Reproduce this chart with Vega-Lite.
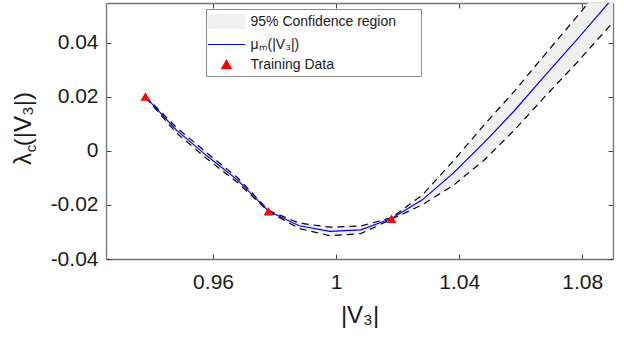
{
  "$schema": "https://vega.github.io/schema/vega-lite/v6.json",
  "width": 507,
  "height": 256,
  "autosize": {"type": "none"},
  "padding": {"left": 106, "top": 3, "right": 11, "bottom": 80},
  "config": {
    "view": {"stroke": null},
    "font": "Liberation Sans",
    "axis": {
      "grid": false,
      "domainColor": "#737373",
      "domainWidth": 1.3,
      "tickColor": "#404040",
      "tickWidth": 1,
      "tickSize": -5,
      "labelFont": "Liberation Sans",
      "labelFontSize": 21,
      "labelColor": "#1a1a1a",
      "titleFont": "Liberation Sans",
      "titleFontWeight": "normal",
      "titleColor": "#1a1a1a"
    },
    "legend": {
      "orient": "none",
      "legendX": 100,
      "legendY": 6,
      "direction": "vertical",
      "fillColor": "white",
      "strokeColor": "#8c8c8c",
      "padding": 4.5,
      "rowPadding": 5,
      "symbolSize": 196,
      "symbolOffset": 8,
      "symbolStrokeColor": "#000000",
      "symbolStrokeWidth": 1.2,
      "symbolDash": [6, 4],
      "labelOffset": 16,
      "labelFontSize": 14,
      "labelFont": "Liberation Sans",
      "labelColor": "#1a1a1a",
      "labelLimit": 0
    }
  },
  "datasets": {
    "curve": [
      {"x": 0.938, "mean": 0.0201, "lower": 0.0199, "upper": 0.0203},
      {"x": 0.948, "mean": 0.0078, "lower": 0.0068, "upper": 0.0088},
      {"x": 0.958, "mean": -0.0018, "lower": -0.0029, "upper": -0.0007},
      {"x": 0.968, "mean": -0.0108, "lower": -0.0117, "upper": -0.0099},
      {"x": 0.978, "mean": -0.0222, "lower": -0.0224, "upper": -0.0220},
      {"x": 0.988, "mean": -0.0277, "lower": -0.0287, "upper": -0.0267},
      {"x": 0.998, "mean": -0.0298, "lower": -0.0314, "upper": -0.0282},
      {"x": 1.008, "mean": -0.0292, "lower": -0.0306, "upper": -0.0278},
      {"x": 1.018, "mean": -0.0250, "lower": -0.0253, "upper": -0.0247},
      {"x": 1.028, "mean": -0.0181, "lower": -0.0199, "upper": -0.0163},
      {"x": 1.038, "mean": -0.0083, "lower": -0.0128, "upper": -0.0038},
      {"x": 1.048, "mean": 0.0030, "lower": -0.0035, "upper": 0.0095},
      {"x": 1.058, "mean": 0.0150, "lower": 0.0078, "upper": 0.0222},
      {"x": 1.068, "mean": 0.0281, "lower": 0.0203, "upper": 0.0359},
      {"x": 1.078, "mean": 0.0409, "lower": 0.0324, "upper": 0.0494},
      {"x": 1.088, "mean": 0.0541, "lower": 0.0451, "upper": 0.0631},
      {"x": 1.098, "mean": 0.0672, "lower": 0.0577, "upper": 0.0767}
    ],
    "train": [
      {"x": 0.938, "y": 0.0202},
      {"x": 0.978, "y": -0.0223},
      {"x": 1.018, "y": -0.0251}
    ]
  },
  "layer": [
    {
      "data": {"name": "curve"},
      "mark": {"type": "area", "clip": true, "fillOpacity": 1},
      "encoding": {
        "x": {
          "field": "x", "type": "quantitative",
          "scale": {"domain": [0.9252, 1.09], "nice": false, "zero": false},
          "axis": {
            "orient": "bottom",
            "values": [0.96, 1, 1.04, 1.08],
            "labelExpr": "format(datum.value, '~g')",
            "labelPadding": 17,
            "labelBaseline": "top",
            "labelFlush": false,
            "title": "|V₃|",
            "titleFontSize": 24,
            "titleBaseline": "alphabetic",
            "titleY": 63
          }
        },
        "y": {
          "field": "lower", "type": "quantitative",
          "scale": {"domain": [-0.04, 0.0548], "nice": false, "zero": false},
          "axis": {
            "orient": "left",
            "values": [-0.04, -0.02, 0, 0.02, 0.04],
            "labelExpr": "replace(format(datum.value, '~g'), '\u2212', '-')",
            "labelPadding": 13,
            "labelBaseline": "middle",
            "labelFlush": false,
            "title": "λ (|V₃|)",
            "titleFontSize": 24,
            "titleAngle": -90,
            "titleAlign": "center",
            "titleBaseline": "alphabetic",
            "titleX": -76,
            "titleY": 125
          }
        },
        "y2": {"field": "upper"},
        "color": {
          "datum": "95% Confidence region",
          "type": "nominal",
          "scale": {
            "domain": ["95% Confidence region", "μₘ(|V₃|)", "Training Data"],
            "range": ["#f0f0f0", "#0000ff", "#ff0000"]
          },
          "legend": {
            "title": null,
            "labelExpr": "datum.label == '95% Confidence region' ? '95% Confidence region\u2800\u2800' : datum.label",
            "encode": {
              "symbols": {
                "update": {
                  "shape": {"signal": "datum.value === 'Training Data' ? 'triangle-up' : datum.value === '95% Confidence region' ? 'M-2.65,-1H2.65V1H-2.65Z' : 'M-2.65,0H2.65'"},
                  "size": {"signal": "datum.value === 'Training Data' ? 95 : 196"},
                  "fill": {"signal": "datum.value === 'Training Data' ? '#ff0000' : datum.value === '95% Confidence region' ? '#f0f0f0' : 'transparent'"},
                  "stroke": {"signal": "datum.value === 'Training Data' ? 'transparent' : datum.value === '95% Confidence region' ? '#000000' : '#0000ff'"},
                  "strokeDash": {"signal": "datum.value === '95% Confidence region' ? [6, 4] : [1, 0]"},
                  "strokeWidth": {"value": 1.2},
                  "opacity": {"value": 1},
                  "fillOpacity": {"value": 1},
                  "strokeOpacity": {"value": 1}
                }
              }
            }
          }
        }
      }
    },
    {
      "data": {"name": "curve"},
      "mark": {"type": "line", "clip": true, "stroke": "#000000", "strokeWidth": 1.2, "strokeDash": [7, 5]},
      "encoding": {
        "x": {
          "field": "x", "type": "quantitative",
          "axis": {"orient": "top", "values": [0.96, 1, 1.04, 1.08], "labels": false, "title": null}
        },
        "y": {
          "field": "upper", "type": "quantitative",
          "axis": {"orient": "right", "values": [-0.04, -0.02, 0, 0.02, 0.04], "labels": false, "title": null}
        }
      }
    },
    {
      "data": {"name": "curve"},
      "mark": {"type": "line", "clip": true, "stroke": "#000000", "strokeWidth": 1.2, "strokeDash": [7, 5]},
      "encoding": {
        "x": {"field": "x", "type": "quantitative", "axis": null},
        "y": {
          "field": "lower", "type": "quantitative",
          "axis": {
            "orient": "left", "domain": false, "ticks": false, "labels": false,
            "title": "c", "titleFontSize": 15, "titleAngle": -90, "titleAlign": "center",
            "titleBaseline": "alphabetic", "titleX": -71, "titleY": 145
          }
        }
      }
    },
    {
      "data": {"name": "curve"},
      "mark": {"type": "line", "clip": true, "strokeWidth": 1.2},
      "encoding": {
        "x": {"field": "x", "type": "quantitative", "axis": null},
        "y": {"field": "mean", "type": "quantitative", "axis": null},
        "color": {"datum": "μₘ(|V₃|)", "type": "nominal"}
      }
    },
    {
      "data": {"name": "train"},
      "mark": {"type": "point", "shape": "triangle-up", "filled": true, "size": 95, "opacity": 1},
      "encoding": {
        "x": {"field": "x", "type": "quantitative", "axis": null},
        "y": {"field": "y", "type": "quantitative", "axis": null},
        "color": {"datum": "Training Data", "type": "nominal"}
      }
    }
  ],
  "resolve": {"axis": {"x": "independent", "y": "independent"}}
}
